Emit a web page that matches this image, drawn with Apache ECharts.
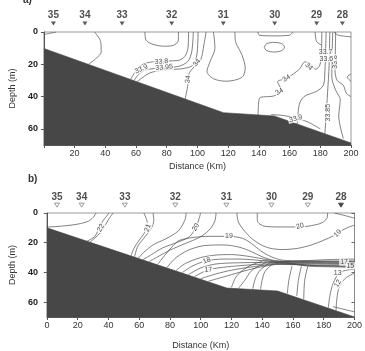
<!DOCTYPE html>
<html><head><meta charset="utf-8">
<script src="https://cdn.jsdelivr.net/npm/echarts@6/dist/echarts.min.js"></script>
<style>html,body{margin:0;padding:0;background:#fff}#c{width:365px;height:351px}</style>
</head><body><div id="c"></div>
<script>
// ---------- Panel a (salinity) ----------
const stationNames = ['35','34','33','32','31','30','29','28'];
const stationDistA = [6.2, 26.7, 50.9, 83.2, 116.8, 150.3, 177.6, 194.4];
const stationDistB = [6.6, 22.6, 50.7, 83.5, 116.7, 146, 169.6, 191.2];

const bathyA = [[0,10.2],[117,50],[150,52],[200,68.7]];
const bathyB = [[0,10],[117,50.5],[150,52.5],[200,70]];

const aC1 = [[0,1.5],[4,0.8],[8,0]];
const aC2 = [[32.9,0],[37,6],[37.3,12.5],[34.2,16.2],[29.2,19.8]];
const aC3 = [[65.8,0],[66.5,5],[70.8,7.6],[78.3,8.8],[84.5,8.2],[87.6,5],[87.6,0]];
const aC4 = [[56.5,29.3],[60,24],[64.8,19.9],[73.1,18.2],[87.6,17.6],[91.7,15.2],[93.8,10],[94.2,0]];
const aC5 = [[58.6,30.1],[62,26],[66.9,23.4],[75.2,22.3],[87.6,21.3],[93.8,18.2],[96.3,12.1],[97.3,0]];
const aC6 = [[60.7,30.8],[68.9,25.4],[79.3,23.4],[89.6,22.8],[96.9,20.7],[99.6,14.2],[100.4,0]];
const aC7 = [[105.6,0],[104.2,8],[102.1,17.2],[98,21.3],[94.2,26.5],[93.8,32.6],[92,41.5]];
const aC8 = [[110.4,0],[111.4,10],[108.3,18.2],[106.2,24.4],[110.4,28.9],[118.6,30.5],[129,28.1],[131.1,22.3],[129,14.2],[124.8,5.9],[124.4,0]];
const aC9 = [[143.5,9.4],[145,7.3],[150,6.4],[155,7.3],[156.7,9.4],[155,11.5],[150,12.4],[145,11.5],[143.5,9.4]];
const aC10 = [[139.3,0],[140.4,2],[150,2.4],[160,2],[162.1,0]];
const aC11 = [[139.5,51.4],[140.4,41],[149.7,39.6],[154.8,36.3],[152.2,30.8],[158,28.7],[166.3,23.1],[170,18.5],[173.5,19.9],[177,23.1],[179.7,20.5],[180.7,13.3],[181,0]];
const aC12 = [[165,57.2],[166.3,45],[169.4,40],[177.6,36.7],[182,33],[183,24],[183.5,10],[183.8,0]];
const aC13 = [[183,63],[184,49],[185,33.6],[185.6,24.4],[186,10],[186.2,0]];
const aC14 = [[188.1,0],[187.8,10],[187.6,18.2],[187.5,28],[190,36],[193,42],[192,52],[195,66]];
const aC15 = [[190,0],[189.8,12],[189.6,24],[191,30],[195,33],[197,38],[200,40]];
const aC16 = [[189,0],[191.2,1.8],[195,2.5],[200,3]];
const aC17 = [[176.6,0],[177.6,5.9],[180.7,8]];
const aC18 = [[200,26],[197.5,28],[200,30.5]];
const aC19 = [[148,51.2],[155,51.6],[163,53],[172,55.8],[180,60]];

const aLabText = ['33.9','33.8','33.95','34','34','34','34','34','33.9','33.85','33.8','33.7','33.6'];
const aLabPos = [[63.4,23],[76.5,18.3],[78.3,21.9],[99.6,19.1],[93.8,29.3],[172.5,21.5],[158,28.7],[153.4,37],[164,53.7],[185,50],[189.6,18.5],[183.5,12.5],[184,16.5]];
const aLabRot = [25,5,5,50,80,-45,30,30,15,90,90,0,0];

// ---------- Panel b (temperature) ----------
const bT1 = [[0,9.5],[10,8.8],[20,7.5],[27,5.5],[30,3],[32,0]];
const bT2 = [[40.4,0],[36.3,5.5],[34.6,8.6],[31.2,15.7],[26,19]];
const bT2b = [[43,0],[40,4.5],[37.5,9],[35,13],[31,17],[28,19.6]];
const bT3 = [[63,0],[65,5],[65.4,9.6],[63,14],[59.5,19],[56.5,24],[54.8,28.7]];
const bT4 = [[69,0],[69.5,5],[67.5,11],[63,17],[59,22.5],[57,29.5]];
const bT5 = [[90.6,0],[89.6,5],[85.5,12],[77.3,17.4],[69.1,21.4],[63,26.5],[59.5,30.3]];
const bT6 = [[99.9,0],[98.9,4.1],[96.8,9.6],[92.7,16],[83.4,20.3],[75.2,23.5],[68,28],[62.5,31.4]];
const bF1 = [[110,0],[109,6],[105,12],[99,16.5],[90,20.5],[80,25],[72,29.5],[66.5,32.7]];
const bF2 = [[72,34.6],[77,28],[82,22],[86,18.5],[95,16.5],[106,15.7],[118.4,15.7],[127,17],[133,20.5],[139,25.5],[146,29.5],[153,31.7],[165,32.2],[180,32.3],[200,32.2]];
const bF3 = [[78,36.7],[84,30],[92,25],[102,22],[115,21.5],[125,23],[133,26],[140,29.5],[148,32],[160,32.6],[180,32.7],[200,32.7]];
const bF4 = [[84,38.7],[90,34],[100,30],[110,28.3],[120,28],[130,29],[140,30.8],[150,32.5],[170,32.9],[200,33.1]];
const bF5 = [[88,40.1],[95,35.5],[104,32.1],[115,31],[125,31],[135,31.6],[145,32.6],[160,33.2],[200,33.6]];
const bF6 = [[92,41.5],[100,37],[110,34.3],[125,33.5],[140,33.3],[155,33.5],[200,34.1]];
const bF7 = [[96,42.8],[105,38.2],[115,36.5],[125,35.5],[140,34.4],[155,34],[200,34.7]];
const bF8 = [[100,44.2],[110,41],[120,38.5],[135,36],[150,34.5],[175,35],[200,35.3]];
const bF9 = [[105,45.9],[115,43],[125,40],[138,36.5],[152,34.5],[175,35.4],[200,36]];
const bTh1 = [[140,31.8],[150,32.8],[170,32],[185,31.3],[200,31]];
const bTh2 = [[145,33.5],[152,33.4],[170,35.8],[185,36.2],[200,36.6]];
const bTh3 = [[148,33.7],[155,33.6],[170,35.2],[200,35.9]];
const bU20 = [[136.8,0],[136.8,5],[138.5,7.5],[142,9],[152,9.4],[164.5,9.4],[172,8.5],[179,6.5],[182.3,3],[182.5,0]];
const bO19 = [[123.5,0],[124.5,6],[128,11.5],[133,17],[139,21.3],[145,23.7],[153,24.6],[163,23.8],[172,21.5],[180,18.3],[186,15.5],[190.5,12.5],[196,9.6],[200,8.2]];
const bTR = [[187,0],[194,1.8],[200,3.5]];
const bV0 = [[140,32.5],[133,35],[128,38],[123,43],[120,50]];
const bV1 = [[143,33.1],[136.8,36.2],[132.7,39.2],[128.6,45.4],[124.5,50.7]];
const bV2 = [[145,33.5],[138.9,38.2],[135.8,43.3],[133.8,51]];
const bV3 = [[147.1,34.1],[141.9,39.2],[139.9,45.4],[138.9,51.4]];
const bV4 = [[159.4,35.5],[157.3,45.4],[156.3,54.3]];
const bV5 = [[165.5,35.8],[163.5,45.4],[162.5,55.8]];
const bV6 = [[169.6,36],[167.6,45.4],[167,58]];
const bV7 = [[200,38],[196.3,38.2],[190.2,40.3],[186.1,47.4],[184,55.6],[183,63.9]];
const bV8 = [[200,40.5],[194,44],[190,50],[188.5,58],[188,65.7]];
const bBR = [[186,63],[193,64.8],[200,66.5]];

const bLabText = ['22','21','20','19','20','19','18','17','17','15','13','12'];
const bLabPos = [[35,10],[65.6,10],[96.8,9.6],[118.4,15.7],[164.5,8.8],[189.1,13.7],[104,32.1],[105,38.2],[193.2,33.1],[197.3,35.6],[189.1,40.3],[189.1,47.4]];
const bLabRot = [60,70,60,0,15,45,20,5,0,0,0,60];

const contoursA = [aC1,aC2,aC3,aC4,aC5,aC6,aC7,aC8,aC9,aC10,aC11,aC12,aC13,aC14,aC15,aC16,aC17,aC18,aC19];
const contoursB = [bT1,bT2,bT2b,bT3,bT4,bT5,bT6,bF1,bF2,bF3,bF4,bF5,bF6,bF7,bF8,bF9,bTh1,bTh2,bTh3,bU20,bO19,bTR,bV0,bV1,bV2,bV3,bV4,bV5,bV6,bV7,bV8,bBR];

// ---------- build ----------
const FONT = 'Liberation Sans, Arial, sans-serif';
const chart = echarts.init(document.getElementById('c'), null, {renderer:'canvas'});

function contourSeries(c, gi){
  return {type:'line', xAxisIndex:gi, yAxisIndex:gi, data:c, smooth:0.3, symbol:'none', showSymbol:false,
    lineStyle:{color:'#4a4a4a', width:0.7}, z:2, silent:true, animation:false};
}
function bathySeries(d, gi){
  return {type:'line', xAxisIndex:gi, yAxisIndex:gi, data:d, symbol:'none', showSymbol:false,
    lineStyle:{color:'#444', width:0.6}, areaStyle:{color:'#474747', opacity:1, origin:'end'}, z:3, silent:true, animation:false};
}
function labelSeries(texts, pos, rots, gi){
  return {type:'scatter', xAxisIndex:gi, yAxisIndex:gi, symbol:'circle', symbolSize:1, itemStyle:{color:'rgba(255,255,255,0)'}, z:5, silent:true, animation:false,
    label:{show:true, position:'inside', formatter:'{b}', fontSize:7, fontFamily:FONT, color:'#222', backgroundColor:'#fff', padding:[0,1]},
    data: texts.map((t,i)=>({name:t, value:pos[i], label:{rotate:rots[i]}}))};
}
function stationSeries(dists, gi, open){
  return {type:'scatter', xAxisIndex:gi, yAxisIndex:gi, clip:false, symbol:'triangle', symbolRotate:180, symbolSize:[5,4], z:6, silent:true, animation:false,
    itemStyle: open ? {color:'#fff', borderColor:'#666', borderWidth:0.8} : {color:'#333'},
    label:{show:true, position:'top', distance:1, formatter:'{b}', fontSize:10, fontWeight:'bold', fontFamily:FONT, color:'#222'},
    data: dists.map((d,i)=>({name:stationNames[i], value:[d,-5.3],
      itemStyle: (open && i===dists.length-1) ? {color:'#222', borderColor:'#222'} : undefined}))};
}

function xAx(gi, hideZero, margin, nameGap){
  return {type:'value', gridIndex:gi, min:0, max:200, interval:20,
    axisLine:{show:true, onZero:false, lineStyle:{color:'#555', width:1}},
    axisTick:{show:true, length:3, lineStyle:{color:'#555'}},
    splitLine:{show:false},
    axisLabel:{fontSize:9, fontFamily:FONT, color:'#333', margin:margin, formatter: v => (hideZero && v===0) ? '' : String(v)},
    name:'Distance (Km)', nameLocation:'middle', nameGap:nameGap, nameTextStyle:{fontSize:9, fontFamily:FONT, color:'#333'}};
}
function yAx(gi, nameGap, margin){
  return {type:'value', gridIndex:gi, min:0, max:70, interval:20, inverse:true,
    axisLine:{show:true, onZero:false, lineStyle:{color:'#555', width:1}},
    axisTick:{show:true, length:3, lineStyle:{color:'#555'}},
    splitLine:{show:false},
    axisLabel:{fontSize:9, fontFamily:FONT, color:'#222', fontWeight:'bold', margin:margin, showMaxLabel:false},
    name:'Depth (m)', nameLocation:'middle', nameGap:nameGap, nameRotate:90, nameTextStyle:{fontSize:9, fontFamily:FONT, color:'#333'}};
}

const series = [];
contoursA.forEach(c => series.push(contourSeries(c,0)));
series.push(bathySeries(bathyA,0));
series.push(labelSeries(aLabText,aLabPos,aLabRot,0));
series.push(stationSeries(stationDistA,0,false));
contoursB.forEach(c => series.push(contourSeries(c,1)));
series.push(bathySeries(bathyB,1));
series.push(labelSeries(bLabText,bLabPos,bLabRot,1));
series.push(stationSeries(stationDistB,1,true));

const yRightB = {type:'value', gridIndex:1, min:0, max:70, interval:20, inverse:true, position:'right',
  axisLine:{show:true, onZero:false, lineStyle:{color:'#888'}}, axisTick:{show:true, inside:true, length:3, lineStyle:{color:'#666'}},
  axisLabel:{show:false}, splitLine:{show:false}};

chart.setOption({
  animation:false,
  backgroundColor:'#fff',
  grid:[
    {left:29, top:32, width:322, height:113, show:true, borderColor:'#999', borderWidth:1, containLabel:false},
    {left:31, top:213, width:325, height:114, show:true, borderColor:'#999', borderWidth:1, containLabel:false}
  ],
  xAxis:[xAx(0,true,4,17), xAx(1,false,4,24)],
  yAxis:[yAx(0,22,6), yAx(1,22,9), yRightB],
  graphic:[
    {type:'text', left:23, top:-5, style:{text:'a)', font:'bold 10px '+FONT, fill:'#333'}},
    {type:'text', left:28, top:174, style:{text:'b)', font:'bold 10px '+FONT, fill:'#333'}}
  ],
  series: series
});
</script></body></html>
